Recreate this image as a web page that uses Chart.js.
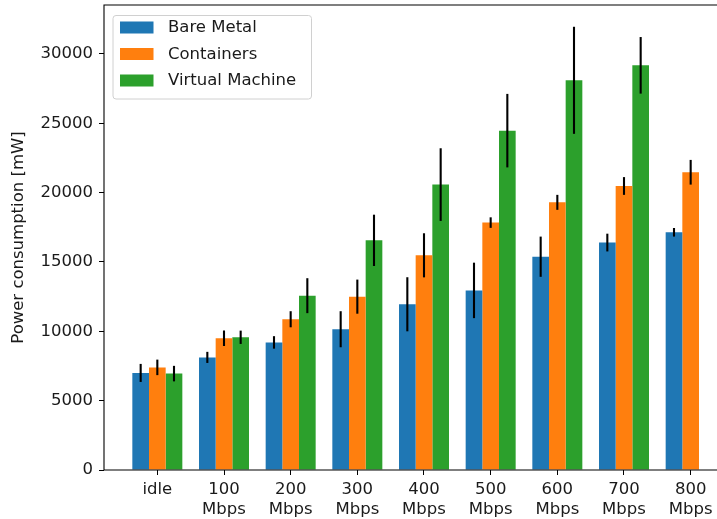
<!DOCTYPE html>
<html><head><meta charset="utf-8">
<script src="https://cdn.jsdelivr.net/npm/chart.js@4/dist/chart.umd.min.js"></script>
<style>
html,body{margin:0;padding:0;overflow:hidden;background:#fff;width:717px;height:519px}
#wrap{position:absolute;left:0;top:0;width:760px;height:519px}
</style>
</head><body>
<div id="wrap"><canvas id="c" width="760" height="519"></canvas></div>
<script>
const categories = ['idle','100 Mbps','200 Mbps','300 Mbps','400 Mbps','500 Mbps','600 Mbps','700 Mbps','800 Mbps'];
const tickLabels = [['idle'],['100','Mbps'],['200','Mbps'],['300','Mbps'],['400','Mbps'],['500','Mbps'],['600','Mbps'],['700','Mbps'],['800','Mbps']];
const seriesNames = ['Bare Metal','Containers','Virtual Machine'];
const bareMetal    = [7000, 8120, 9200, 10150, 11950, 12950, 15380, 16400, 17140];
const bareMetalErr = [650, 400, 450, 1300, 1950, 2000, 1450, 640, 310];
const containers    = [7400, 9500, 10870, 12500, 15480, 17840, 19300, 20480, 21470];
const containersErr = [560, 560, 580, 1230, 1590, 380, 540, 640, 890];
const virtualMachine    = [6950, 9570, 12570, 16560, 20580, 24470, 28100, 29180, null];
const virtualMachineErr = [560, 480, 1260, 1850, 2620, 2650, 3860, 2040, null];
const yTicks = [0, 5000, 10000, 15000, 20000, 25000, 30000];

const colors = ['#1f77b4','#ff7f0e','#2ca02c'];
const FONT = 'DejaVu Sans';
const FS = 16.5;
const TXT = '#1a1a1a';

function pts(vals){ return vals.map((v,i)=>({x:i, y:v})); }

const errorBars = {
  id:'errorBars',
  afterDatasetsDraw(chart){
    const ctx = chart.ctx, ys = chart.scales.y;
    chart.data.datasets.forEach((ds, di)=>{
      const meta = chart.getDatasetMeta(di);
      meta.data.forEach((el, i)=>{
        const v = ds.data[i].y, e = ds.errors[i];
        if (v == null || e == null) return;
        ctx.save();
        ctx.strokeStyle = '#000';
        ctx.lineWidth = 2.1;
        ctx.beginPath();
        ctx.moveTo(el.x, ys.getPixelForValue(v - e));
        ctx.lineTo(el.x, ys.getPixelForValue(v + e));
        ctx.stroke();
        ctx.restore();
      });
    });
  }
};

const frameAndLegend = {
  id:'frameAndLegend',
  afterDraw(chart){
    const ctx = chart.ctx, a = chart.chartArea;
    ctx.save();
    ctx.strokeStyle = '#000';
    ctx.lineWidth = 1.1;
    ctx.beginPath();
    ctx.moveTo(chart.width, a.top); ctx.lineTo(a.left, a.top);
    ctx.lineTo(a.left, a.bottom); ctx.lineTo(chart.width, a.bottom);
    ctx.stroke();
    // legend
    const lx = a.left + 8.5, ly = a.top + 10, lw = 198.5, lh = 83.5;
    ctx.beginPath();
    if (ctx.roundRect) ctx.roundRect(lx + 0.5, ly + 0.5, lw, lh, 3); else ctx.rect(lx+0.5, ly+0.5, lw, lh);
    ctx.fillStyle = 'rgba(255,255,255,0.8)';
    ctx.fill();
    ctx.strokeStyle = '#d0d0d0';
    ctx.lineWidth = 1;
    ctx.stroke();
    ctx.font = FS + 'px "' + FONT + '"';
    ctx.textBaseline = 'middle';
    ctx.textAlign = 'left';
    chart.data.datasets.forEach((ds, i)=>{
      const cy = ly + 12.5 + i * 26.5;
      ctx.fillStyle = ds.backgroundColor;
      ctx.fillRect(lx + 7.5, cy - 6, 33.5, 12);
      ctx.fillStyle = TXT;
      ctx.fillText(ds.label, lx + 55.5, cy + 0.5);
    });
    ctx.restore();
  }
};

const datasets = [
  {label: seriesNames[0], data: pts(bareMetal), errors: bareMetalErr, backgroundColor: colors[0]},
  {label: seriesNames[1], data: pts(containers), errors: containersErr, backgroundColor: colors[1]},
  {label: seriesNames[2], data: pts(virtualMachine), errors: virtualMachineErr, backgroundColor: colors[2]}
];

new Chart(document.getElementById('c'), {
  type: 'bar',
  data: { labels: categories, datasets },
  plugins: [errorBars, frameAndLegend],
  options: {
    responsive: false,
    animation: false,
    devicePixelRatio: 1,
    layout: { padding: { top: 5, right: 16, bottom: 0, left: 0 } },
    datasets: { bar: { categoryPercentage: 0.75, barPercentage: 1.0, borderWidth: 0 } },
    plugins: { legend: { display: false }, tooltip: { enabled: false } },
    scales: {
      x: {
        type: 'linear',
        min: -0.8, max: 8.8,
        offset: false,
        grid: { offset: false, drawOnChartArea: false, drawTicks: true, tickLength: 5, tickColor: '#000' },
        border: { display: false },
        afterBuildTicks(scale){ scale.ticks = tickLabels.map((t,i)=>({value:i})); },
        afterFit(scale){ scale.height = 49; scale.paddingLeft = 0; scale.paddingRight = 0; },
        ticks: {
          autoSkip: false, maxRotation: 0, padding: 5,
          color: TXT, font: { family: FONT, size: FS, lineHeight: 1.2 },
          callback(value){ const t = tickLabels[Math.round(value)]; return t ? t : ''; }
        }
      },
      y: {
        min: 0, max: 33530,
        grid: { drawOnChartArea: false, drawTicks: true, tickLength: 5, tickColor: '#000' },
        border: { display: false },
        afterBuildTicks(scale){ scale.ticks = yTicks.map(v=>({value:v})); },
        afterFit(scale){ scale.width = 104; scale.paddingTop = 0; scale.paddingBottom = 0; },
        ticks: { padding: 6, color: TXT, font: { family: FONT, size: FS }, callback: v => String(v) },
        title: { display: true, text: 'Power consumption [mW]', color: TXT, font: { family: FONT, size: FS, lineHeight: 1.2 }, padding: { top: 9, bottom: 0 } }
      }
    }
  }
});
</script>
</body></html>
